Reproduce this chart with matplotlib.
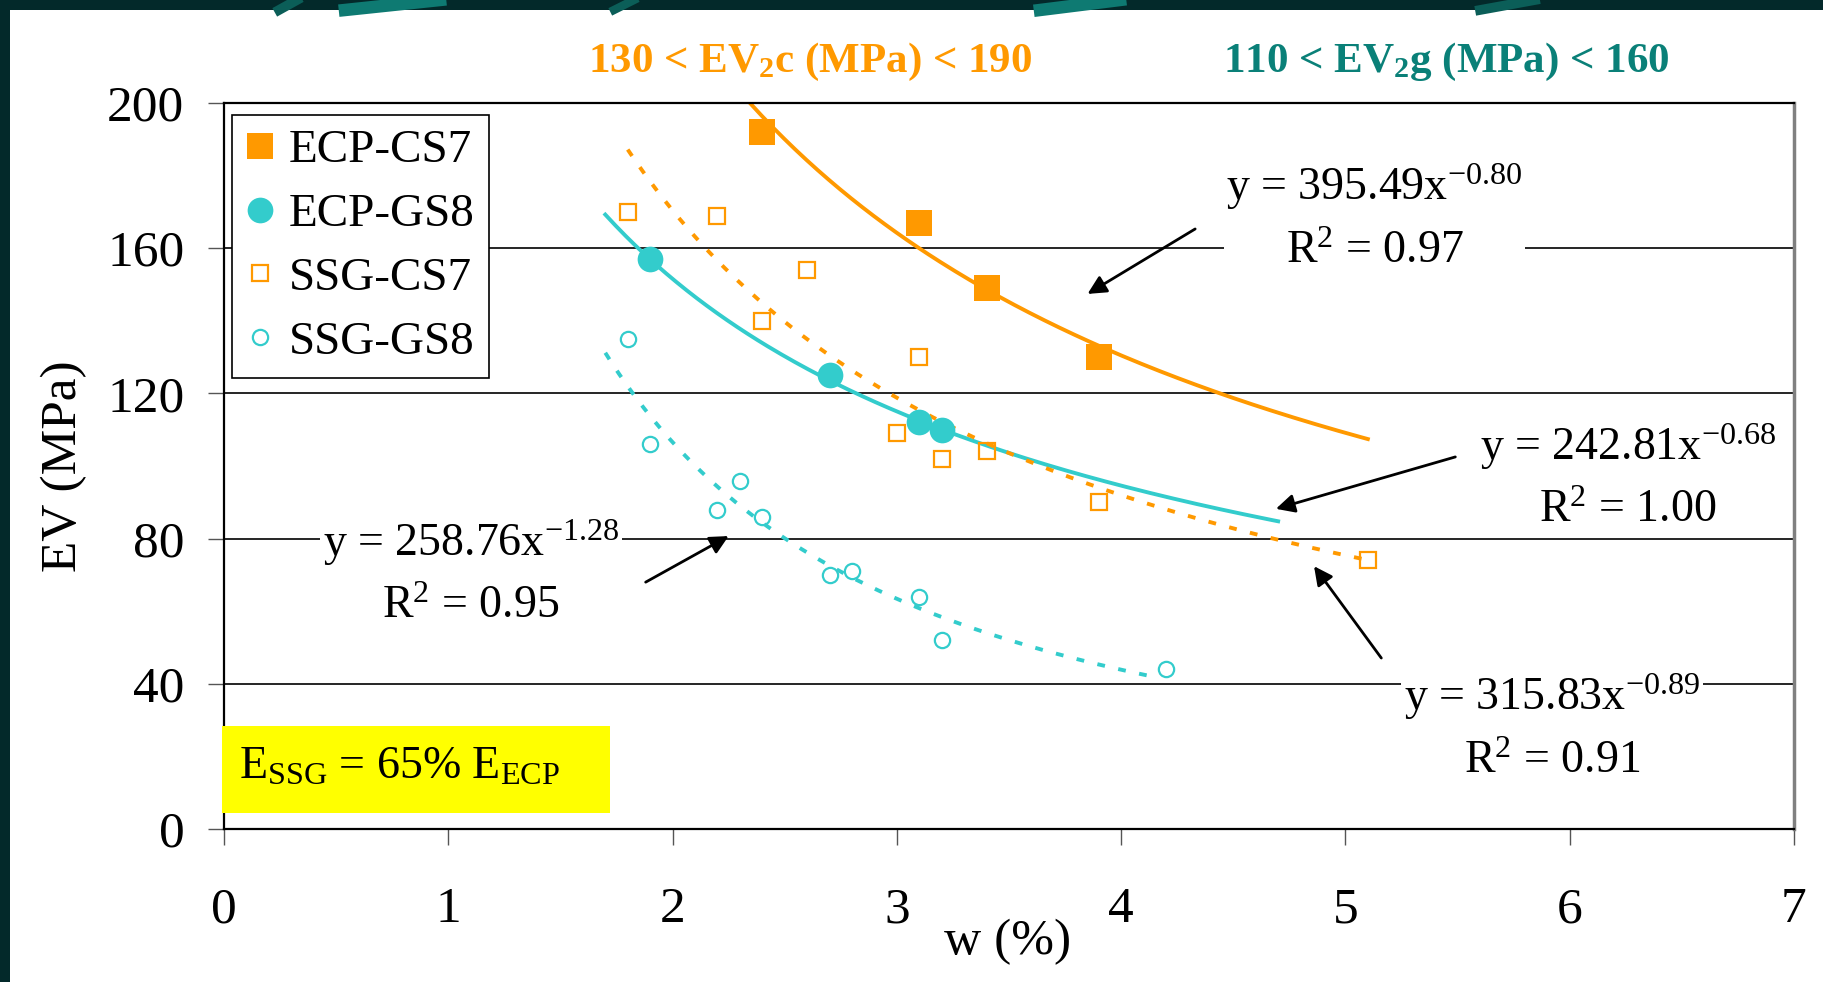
import numpy as np
import matplotlib.pyplot as plt
from matplotlib.patches import Rectangle
from matplotlib.lines import Line2D

plt.rcParams['font.family'] = ['Liberation Serif', 'DejaVu Serif']
plt.rcParams['mathtext.fontset'] = 'custom'
plt.rcParams['mathtext.rm'] = 'Liberation Serif'
plt.rcParams['mathtext.it'] = 'Liberation Serif:italic'
plt.rcParams['mathtext.bf'] = 'Liberation Serif:bold'
plt.rcParams['mathtext.default'] = 'regular'

ORANGE = '#FF9900'
CYAN = '#33CCCC'
TEAL = '#0A8078'

# ECP = filled markers, SSG = open markers
ecp_cs7_w = [2.4, 3.1, 3.4, 3.9]
ecp_cs7_ev = [192, 167, 149, 130]
ecp_gs8_w = [1.9, 2.7, 3.1, 3.2]
ecp_gs8_ev = [157, 125, 112, 110]
ssg_cs7_w = [1.8, 2.2, 2.6, 2.4, 3.1, 3.0, 3.2, 3.4, 3.9, 5.1]
ssg_cs7_ev = [170, 169, 154, 140, 130, 109, 102, 104, 90, 74]
ssg_gs8_w = [1.8, 1.9, 2.2, 2.3, 2.4, 2.7, 2.8, 3.1, 3.2, 4.2]
ssg_gs8_ev = [135, 106, 88, 96, 86, 70, 71, 64, 52, 44]

# power trendlines y = a * x^b as printed on the chart
# order: ECP-CS7, ECP-GS8, SSG-CS7, SSG-GS8
fit_a = [395.49, 242.81, 315.83, 258.76]
fit_b = [-0.80, -0.68, -0.89, -1.28]
fit_r2 = [0.97, 1.00, 0.91, 0.95]
fit_xmin = [1.8, 1.7, 1.8, 1.7]
fit_xmax = [5.1, 4.7, 5.1, 4.15]
fit_color = [ORANGE, CYAN, ORANGE, CYAN]
fit_dashed = [False, False, True, True]

# where each equation label sits and where its arrow points (data units)
label_xy = [(5.13, 168.5), (6.26, 97.0), (5.92, 28.0), (1.10, 70.5)]
arrow_tail = [(4.33, 165.3), (5.49, 102.5), (5.16, 47.1), (1.88, 68.0)]
arrow_tip = [(3.85, 147.4), (4.69, 88.2), (4.86, 72.4), (2.25, 80.7)]

fig = plt.figure(figsize=(18.24, 9.82), dpi=100)
fig.patch.set_facecolor('#03292A')
fig.add_artist(Rectangle((10 / 1824, 0), 1, 1 - 10 / 982, transform=fig.transFigure,
                         facecolor='white', edgecolor='none', zorder=-5))
# decorative teal arcs peeking in the top band
for x0, x1, c, lw in [(279, 297, '#0B5E58', 7), (345, 440, '#0E7A72', 9),
                      (614, 634, '#0B5E58', 6), (1040, 1120, '#0E7A72', 9),
                      (1480, 1535, '#0B5E58', 7)]:
    fig.add_artist(Line2D([x0 / 1824, x1 / 1824], [1 - 10 / 982, 1.0],
                          transform=fig.transFigure, color=c, lw=lw, zorder=-4))

ax = fig.add_axes([224 / 1824, 1 - 829 / 982, 1570 / 1824, 726 / 982])
ax.set_xlim(0, 7)
ax.set_ylim(0, 200)
ax.set_xticks(range(0, 8))
ax.set_yticks(range(0, 201, 40))
ax.set_axisbelow(True)
ax.grid(axis='y', color='black', lw=1.2)
ax.tick_params(direction='out', length=11.5, width=1, color='#555555', labelsize=37)
ax.tick_params(axis='x', pad=30)
ax.tick_params(axis='y', pad=17)
for side in ['left', 'bottom', 'top']:
    ax.spines[side].set_color('black')
    ax.spines[side].set_linewidth(1.6)
ax.spines['right'].set_color('#808080')
ax.spines['right'].set_linewidth(2.5)

# trendlines
for i in range(4):
    xs = np.linspace(fit_xmin[i], fit_xmax[i], 200)
    ys = fit_a[i] * xs ** fit_b[i]
    ls = (0, (2, 3.5)) if fit_dashed[i] else '-'
    ax.plot(xs, ys, color=fit_color[i], lw=2.8, ls=ls, zorder=2)

ax.plot(ecp_cs7_w, ecp_cs7_ev, 's', color=ORANGE, ms=18.5, mew=0, zorder=4, label='ECP-CS7')
ax.plot(ecp_gs8_w, ecp_gs8_ev, 'o', color=CYAN, ms=18.5, mew=0, zorder=4, label='ECP-GS8')
ax.plot(ssg_cs7_w, ssg_cs7_ev, 's', mfc='none', mec=ORANGE, ms=12, mew=1.6, zorder=3, label='SSG-CS7')
ax.plot(ssg_gs8_w, ssg_gs8_ev, 'o', mfc='none', mec=CYAN, ms=11, mew=1.6, zorder=3, label='SSG-GS8')

leg = ax.legend(loc='upper left', bbox_to_anchor=(8 / 1570, 1 - 12 / 726), borderaxespad=0,
                fontsize=34, frameon=True, fancybox=False, framealpha=1, edgecolor='black',
                borderpad=0.3, handlelength=0.6, handletextpad=0.3, labelspacing=0.44)
leg.get_frame().set_linewidth(1.2)

# equation labels with arrows
for i in range(4):
    txt = 'y = %.2fx$^{%.2f}$\nR$^{2}$ = %.2f' % (fit_a[i], fit_b[i], fit_r2[i])
    ax.text(label_xy[i][0], label_xy[i][1], txt, fontsize=33, ha='center', va='center',
            multialignment='center', linespacing=1.55, zorder=5,
            bbox=dict(facecolor='white', edgecolor='none', pad=2))
    ax.annotate('', xy=arrow_tip[i], xytext=arrow_tail[i], zorder=6,
                arrowprops=dict(arrowstyle='-|>', color='black', lw=2, mutation_scale=28,
                                shrinkA=0, shrinkB=0))

# yellow note box
ax.add_patch(Rectangle((-0.01, 4.4), 1.73, 24, facecolor='#FFFF00', edgecolor='none',
                       zorder=5, clip_on=False))
ax.text(0.067, 13.8, 'E$_{SSG}$ = 65% E$_{ECP}$', fontsize=33, ha='left', va='baseline', zorder=6)

fig.text(64 / 1824, 1 - 466 / 982, 'EV (MPa)', rotation=90, fontsize=37, ha='center', va='center')
fig.text(1008 / 1824, 1 - 942 / 982, 'w (%)', fontsize=37, ha='center', va='center')

fig.text(810 / 1824, 1 - 72 / 982, '130 < EV$_2$c (MPa) < 190', fontsize=31, fontweight='bold',
         color=ORANGE, ha='center', va='baseline')
fig.text(1446 / 1824, 1 - 72 / 982, '110 < EV$_2$g (MPa) < 160', fontsize=31, fontweight='bold',
         color=TEAL, ha='center', va='baseline')

fig.savefig('out.png', dpi=100, facecolor=fig.get_facecolor())
